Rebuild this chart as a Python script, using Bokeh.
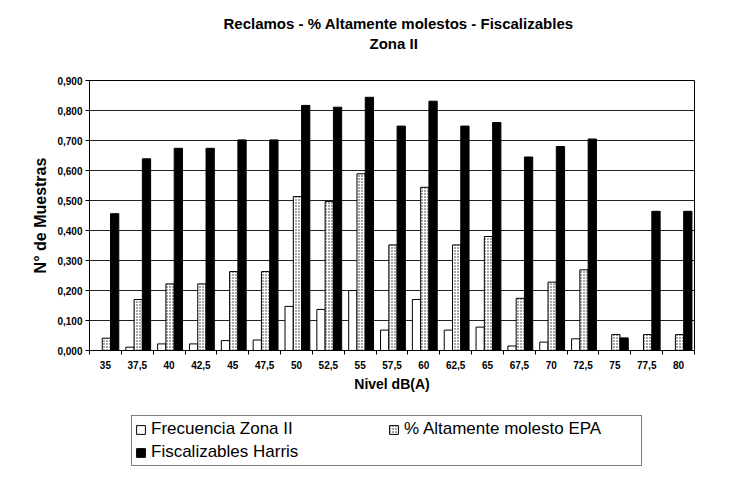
import numpy as np
from bokeh.plotting import figure
from bokeh.layouts import column
from bokeh.models import (ColumnDataSource, Range1d, FixedTicker, CustomJSTickFormatter,
                          Legend, LegendItem, Title)
from bokeh.transform import dodge
from bokeh.embed import file_html
from bokeh.resources import INLINE

# ---- data ----
levels = ["35", "37,5", "40", "42,5", "45", "47,5", "50", "52,5", "55", "57,5",
          "60", "62,5", "65", "67,5", "70", "72,5", "75", "77,5", "80"]
frecuencia = [0.000, 0.011, 0.022, 0.022, 0.033, 0.035, 0.147, 0.137, 0.200, 0.068,
              0.170, 0.068, 0.078, 0.015, 0.028, 0.039, 0.000, 0.000, 0.000]
epa = [0.041, 0.170, 0.222, 0.222, 0.263, 0.263, 0.513, 0.497, 0.589, 0.352,
       0.544, 0.352, 0.380, 0.174, 0.228, 0.269, 0.053, 0.053, 0.053]
harris = [0.456, 0.639, 0.674, 0.674, 0.702, 0.702, 0.817, 0.811, 0.844, 0.748,
          0.831, 0.748, 0.760, 0.645, 0.680, 0.705, 0.042, 0.464, 0.464]
y_ticks = [0.0, 0.1, 0.2, 0.3, 0.4, 0.5, 0.6, 0.7, 0.8, 0.9]
series_names = ["Frecuencia Zona II", "% Altamente molesto EPA", "Fiscalizables Harris"]
title1 = "Reclamos - % Altamente molestos - Fiscalizables"
title2 = "Zona II"

FONT = "Liberation Sans"
n = len(levels)
idx = np.arange(n)
bw = 0.26

WHITE = dict(fill_color="white", line_color="black", line_width=1)
DOTS = dict(fill_color="white", line_color="black", line_width=1,
            hatch_pattern="dot", hatch_scale=3, hatch_color="#222222", hatch_weight=1)
BLACK = dict(fill_color="black", line_color="black", line_width=1)

src = ColumnDataSource(dict(x=idx + 0.5, f=frecuencia, e=epa, h=harris))

p = figure(width=734, height=400, output_backend="svg", toolbar_location=None,
           x_range=Range1d(0, n), y_range=Range1d(0, 0.9),
           min_border_left=89, min_border_right=40, min_border_top=80, min_border_bottom=50)
p.title.visible = False
p.outline_line_color = "black"
p.outline_line_width = 1

p.vbar(x=dodge("x", -bw + 0.03, range=p.x_range), top="f", width=bw, source=src, **WHITE)
p.vbar(x=dodge("x", 0.03, range=p.x_range), top="e", width=bw, source=src, **DOTS)
p.vbar(x=dodge("x", bw + 0.03, range=p.x_range), top="h", width=bw, source=src, **BLACK)

# x axis
p.xaxis.ticker = FixedTicker(ticks=list(idx + 0.5), minor_ticks=list(np.arange(n + 1)))
p.xaxis.formatter = CustomJSTickFormatter(args=dict(labels=levels),
                                          code="return labels[Math.floor(tick)];")
p.xaxis.major_tick_out = 0
p.xaxis.major_tick_in = 0
p.xaxis.minor_tick_out = 4
p.xaxis.minor_tick_in = 0
p.xaxis.major_label_standoff = 6
p.xaxis.major_label_text_font = FONT
p.xaxis.major_label_text_font_style = "bold"
p.xaxis.major_label_text_font_size = "10px"
p.xaxis.major_label_text_color = "black"
p.xaxis.axis_label = "Nivel dB(A)"
p.xaxis.axis_label_text_font = FONT
p.xaxis.axis_label_text_font_style = "bold"
p.xaxis.axis_label_text_font_size = "14px"
p.xaxis.axis_label_text_color = "black"
p.xaxis.axis_label_standoff = 4
p.xaxis.axis_line_color = "black"

# y axis
p.yaxis.ticker = FixedTicker(ticks=y_ticks)
p.yaxis.formatter = CustomJSTickFormatter(code="return tick.toFixed(3).replace('.', ',');")
p.yaxis.major_tick_out = 4
p.yaxis.major_tick_in = 0
p.yaxis.minor_tick_out = 0
p.yaxis.minor_tick_in = 0
p.yaxis.major_label_standoff = 3
p.yaxis.major_label_text_font = FONT
p.yaxis.major_label_text_font_style = "bold"
p.yaxis.major_label_text_font_size = "10px"
p.yaxis.major_label_text_color = "black"
p.yaxis.axis_label = "N° de Muestras"
p.yaxis.axis_label_text_font = FONT
p.yaxis.axis_label_text_font_style = "bold"
p.yaxis.axis_label_text_font_size = "16px"
p.yaxis.axis_label_text_color = "black"
p.yaxis.axis_label_standoff = 5
p.yaxis.axis_line_color = "black"

p.xgrid.visible = False
p.ygrid.ticker = FixedTicker(ticks=y_ticks)
p.ygrid.grid_line_color = "#222222"
p.ygrid.grid_line_width = 1

# titles: spacer nearest the plot, then the two lines
TSTYLE = dict(text_font=FONT, text_font_style="bold", text_font_size="15px", text_color="black")
p.add_layout(Title(text=" ", standoff=26, text_font_size="1px"), "above")
p.add_layout(Title(text=title2, align="left", offset=280, standoff=0, **TSTYLE), "above")
p.add_layout(Title(text=title1, align="left", offset=134, standoff=1, **TSTYLE), "above")

# legend strip below the chart (same side borders as the chart, so frames align)
lg = figure(width=734, height=86, output_backend="svg", toolbar_location=None,
            x_axis_location=None, y_axis_location=None,
            x_range=Range1d(0, 1), y_range=Range1d(0, 1),
            min_border_left=89, min_border_right=40, min_border_top=0, min_border_bottom=0)
lg.grid.visible = False
lg.outline_line_color = None
lg.title.visible = False
# swatch-only renderers (their single point lies outside the visible range)
swatch = ColumnDataSource(dict(x=[-5.0], top=[0.0]))
g1 = lg.vbar(x="x", top="top", width=0.1, source=swatch, **WHITE)
g2 = lg.vbar(x="x", top="top", width=0.1, source=swatch, **DOTS)
g3 = lg.vbar(x="x", top="top", width=0.1, source=swatch, **BLACK)

legend = Legend(items=[LegendItem(label=series_names[0], renderers=[g1]),
                       LegendItem(label=series_names[1], renderers=[g2]),
                       LegendItem(label=series_names[2], renderers=[g3])],
                location=(42, 20), ncols=2, orientation="horizontal")
legend.label_text_font = FONT
legend.label_text_font_size = "17px"
legend.label_text_color = "black"
legend.glyph_width = 11
legend.glyph_height = 11
legend.label_height = 20
legend.label_standoff = 5
legend.spacing = 3
legend.padding = 3
legend.margin = 0
legend.label_width = 234
legend.border_line_color = "black"
legend.border_line_width = 1
legend.background_fill_alpha = 0
lg.add_layout(legend, "center")

layout = column(p, lg, spacing=0)
open("out.html", "w").write(file_html(layout, INLINE))
